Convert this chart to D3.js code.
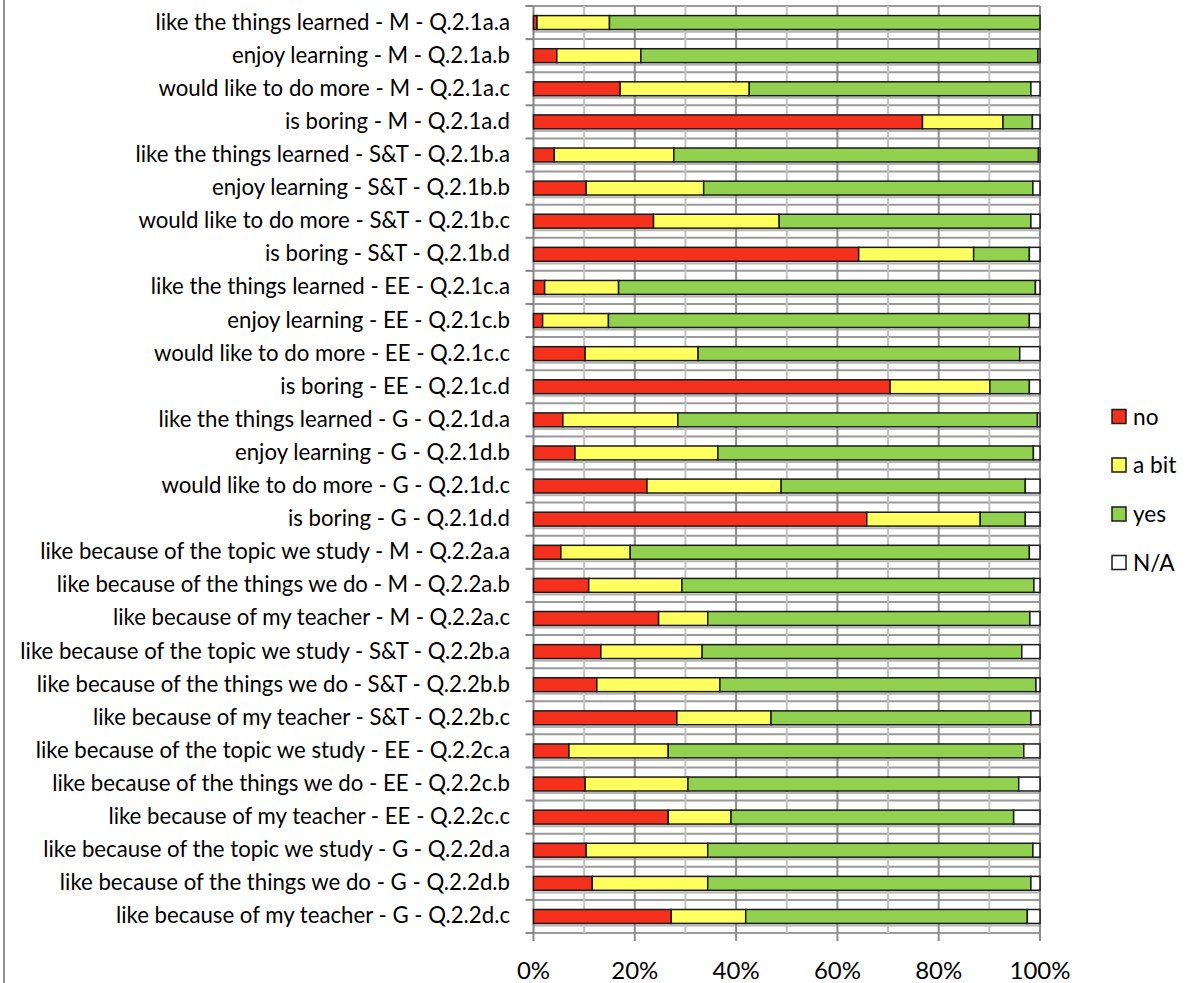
<!DOCTYPE html>
<html>
<head>
<meta charset="utf-8">
<script src="https://cdn.jsdelivr.net/npm/d3@7"></script>
<style>
  html, body { margin: 0; padding: 0; background: #fff; }
  svg { display: block; }
  text { font-family: Lato, "Open Sans", sans-serif; fill: #000; }
</style>
</head>
<body>
<svg id="chart" width="1190" height="983"></svg>
<script>
// Survey items, top to bottom
const categories = [
  "like the things learned - M - Q.2.1a.a",
  "enjoy learning - M - Q.2.1a.b",
  "would like to do more - M - Q.2.1a.c",
  "is boring - M - Q.2.1a.d",
  "like the things learned - S&T - Q.2.1b.a",
  "enjoy learning - S&T - Q.2.1b.b",
  "would like to do more - S&T - Q.2.1b.c",
  "is boring - S&T - Q.2.1b.d",
  "like the things learned - EE - Q.2.1c.a",
  "enjoy learning - EE - Q.2.1c.b",
  "would like to do more - EE - Q.2.1c.c",
  "is boring - EE - Q.2.1c.d",
  "like the things learned - G - Q.2.1d.a",
  "enjoy learning - G - Q.2.1d.b",
  "would like to do more - G - Q.2.1d.c",
  "is boring - G - Q.2.1d.d",
  "like because of the topic we study - M - Q.2.2a.a",
  "like because of the things we do - M - Q.2.2a.b",
  "like because of my teacher - M - Q.2.2a.c",
  "like because of the topic we study - S&T - Q.2.2b.a",
  "like because of the things we do - S&T - Q.2.2b.b",
  "like because of my teacher - S&T - Q.2.2b.c",
  "like because of the topic we study - EE - Q.2.2c.a",
  "like because of the things we do - EE - Q.2.2c.b",
  "like because of my teacher - EE - Q.2.2c.c",
  "like because of the topic we study - G - Q.2.2d.a",
  "like because of the things we do - G - Q.2.2d.b",
  "like because of my teacher - G - Q.2.2d.c"
];

// Share of answers per item, in percent
const noValues   = [0.7, 4.6, 17.1, 76.8, 4.1, 10.4, 23.7, 64.2, 2.2, 1.8, 10.2, 70.4, 5.8, 8.2, 22.4, 65.8, 5.4, 10.9, 24.7, 13.3, 12.5, 28.3, 7.0, 10.2, 26.6, 10.4, 11.6, 27.2];
const aBitValues = [14.3, 16.6, 25.5, 15.9, 23.6, 23.2, 24.8, 22.7, 14.6, 13.0, 22.3, 19.7, 22.7, 28.2, 26.5, 22.4, 13.7, 18.4, 9.7, 20.0, 24.3, 18.6, 19.6, 20.3, 12.4, 24.0, 22.8, 14.7];
const yesValues  = [85.0, 78.4, 55.6, 5.8, 72.0, 65.0, 49.7, 11.0, 82.3, 83.1, 63.5, 7.8, 71.0, 62.3, 48.2, 8.9, 78.8, 69.5, 63.6, 63.1, 62.4, 51.3, 70.2, 65.3, 55.8, 64.2, 63.8, 55.6];
const naValues   = [0.0, 0.4, 1.8, 1.5, 0.3, 1.4, 1.8, 2.1, 0.9, 2.1, 4.0, 2.1, 0.5, 1.3, 2.9, 2.9, 2.1, 1.2, 2.0, 3.6, 0.8, 1.8, 3.2, 4.2, 5.2, 1.4, 1.8, 2.5];

const seriesKeys   = ["no", "a bit", "yes", "N/A"];
const seriesColors = ["#f5311d", "#ffff5f", "#92d050", "#ffffff"];
const tickValues   = [0, 20, 40, 60, 80, 100];
const minorTicks   = [10, 30, 50, 70, 90];

const rows = categories.map((c, i) => ({
  category: c,
  "no": noValues[i],
  "a bit": aBitValues[i],
  "yes": yesValues[i],
  "N/A": naValues[i]
}));

const svg = d3.select("#chart");

const plot = { left: 533.5, right: 1040, top: 6, bottom: 933 };

const x = d3.scaleLinear().domain([0, 100]).range([plot.left, plot.right]);
const y = d3.scaleBand().domain(categories).range([plot.top, plot.bottom])
  .paddingInner(0.58).paddingOuter(0.29);
const step = y.step();
const color = d3.scaleOrdinal().domain(seriesKeys).range(seriesColors);

// Outer frame edge on the left
svg.append("line")
  .attr("x1", 4).attr("x2", 4).attr("y1", 0).attr("y2", 983)
  .attr("stroke", "#8f8f8f").attr("stroke-width", 2);

const grid = svg.append("g");

// Horizontal grid: one line at each band edge and a lighter one under each bar
d3.range(categories.length + 1).forEach(i => {
  grid.append("line")
    .attr("x1", plot.left).attr("x2", plot.right)
    .attr("y1", plot.top + i * step).attr("y2", plot.top + i * step)
    .attr("stroke", "#9a9a9a").attr("stroke-width", 2);
});
d3.range(categories.length).forEach(i => {
  const yy = plot.top + i * step + 0.775 * step;
  grid.append("line")
    .attr("x1", plot.left).attr("x2", plot.right)
    .attr("y1", yy).attr("y2", yy)
    .attr("stroke", "#b4b4b4").attr("stroke-width", 2);
});

// Vertical grid: light at odd tens, darker at the labelled ticks
grid.selectAll("line.minor").data(minorTicks).join("line")
  .attr("class", "minor")
  .attr("x1", d => x(d)).attr("x2", d => x(d))
  .attr("y1", plot.top).attr("y2", plot.bottom)
  .attr("stroke", "#c2c2c2").attr("stroke-width", 2);
grid.selectAll("line.major").data(tickValues.slice(1)).join("line")
  .attr("class", "major")
  .attr("x1", d => x(d)).attr("x2", d => x(d))
  .attr("y1", plot.top).attr("y2", plot.bottom + 8)
  .attr("stroke", "#8c8c8c").attr("stroke-width", 2);

// Category axis on the left with tick marks at band edges
const yAxis = svg.append("g");
yAxis.append("line")
  .attr("x1", plot.left).attr("x2", plot.left)
  .attr("y1", plot.top).attr("y2", plot.bottom + 8)
  .attr("stroke", "#868686").attr("stroke-width", 2);
d3.range(categories.length + 1).forEach(i => {
  yAxis.append("line")
    .attr("x1", plot.left - 8).attr("x2", plot.left)
    .attr("y1", plot.top + i * step).attr("y2", plot.top + i * step)
    .attr("stroke", "#868686").attr("stroke-width", 2);
});

// Stacked bars
const stacked = d3.stack().keys(seriesKeys)(rows);
svg.append("g").selectAll("g").data(stacked).join("g")
  .attr("fill", d => color(d.key))
  .selectAll("rect")
  .data(d => d.filter(s => s[1] - s[0] > 0))
  .join("rect")
  .attr("x", d => x(d[0]))
  .attr("y", d => y(d.data.category))
  .attr("width", d => x(d[1]) - x(d[0]))
  .attr("height", y.bandwidth())
  .attr("stroke", "#1a1a1a")
  .attr("stroke-width", 1.5);

// Category labels, sized so the longest one fits the space left of the axis
const labelG = svg.append("g");
const labels = labelG.selectAll("text").data(categories).join("text")
  .attr("x", 510)
  .attr("y", d => y(d) + y.bandwidth() / 2 + 7)
  .attr("text-anchor", "end")
  .style("font-size", "22px")
  .text(d => d);
let widest = 0;
labels.each(function () { widest = Math.max(widest, this.getComputedTextLength()); });
const labelSize = 22 * 490 / widest;
labels.style("font-size", labelSize + "px");

// Value axis labels
svg.append("g").selectAll("text").data(tickValues).join("text")
  .attr("x", d => x(d))
  .attr("y", 979)
  .attr("text-anchor", "middle")
  .style("font-size", (labelSize * 1.08) + "px")
  .text(d => d3.format("d")(d) + "%");

// Legend
const legendY = [416.5, 465, 514, 562.5];
const legend = svg.append("g").selectAll("g").data(seriesKeys).join("g")
  .attr("transform", (d, i) => `translate(1112, ${legendY[i]})`);
legend.append("rect")
  .attr("x", 0).attr("y", -7).attr("width", 14).attr("height", 14)
  .attr("fill", d => color(d))
  .attr("stroke", "#1a1a1a").attr("stroke-width", 1.5);
legend.append("text")
  .attr("x", 21).attr("y", 8)
  .style("font-size", (labelSize * 1.02) + "px")
  .text(d => d);
</script>
</body>
</html>
